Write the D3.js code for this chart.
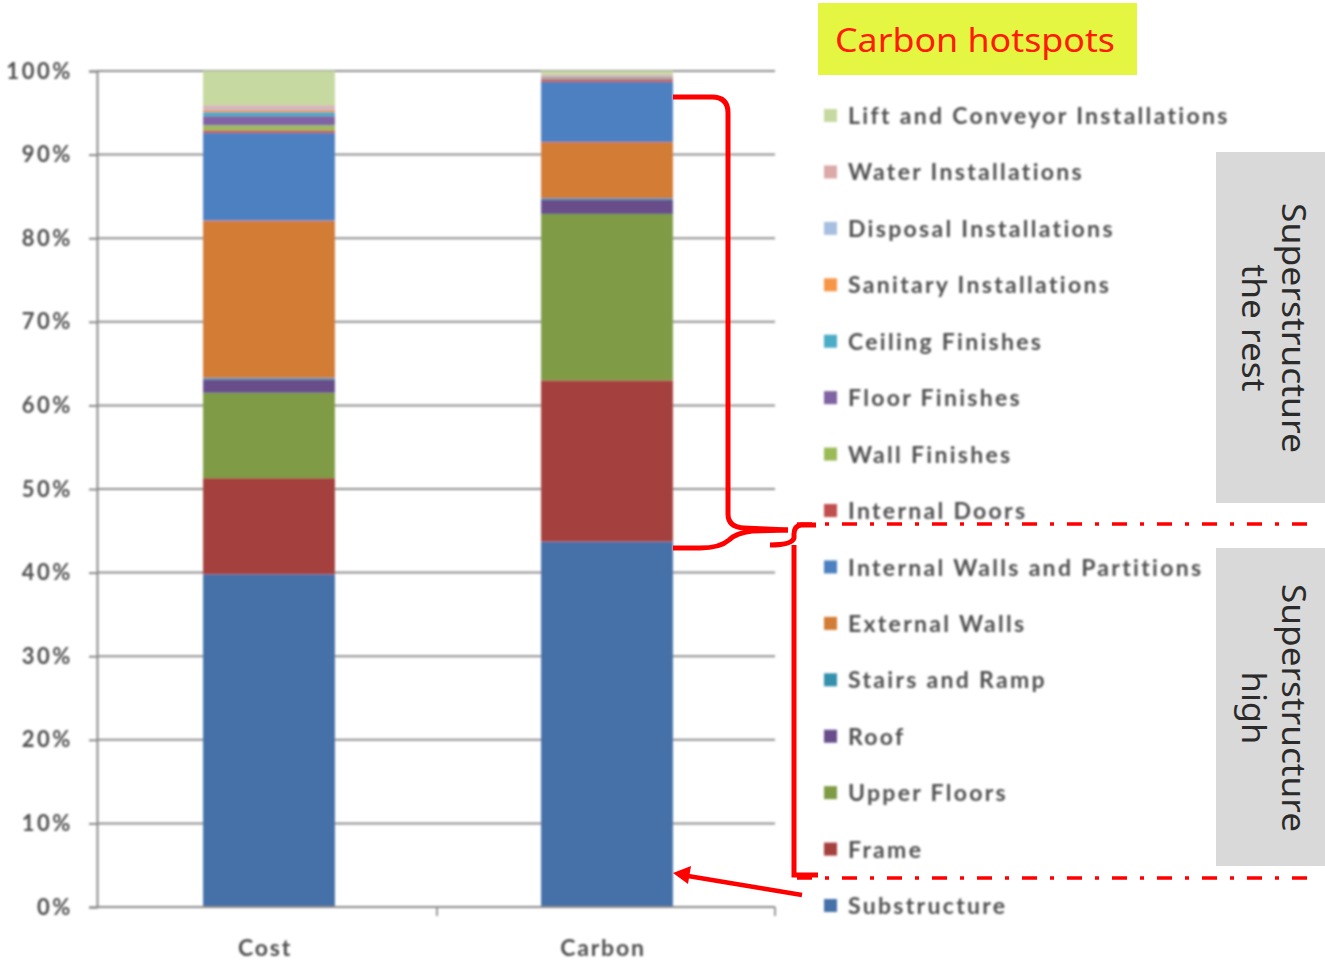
<!DOCTYPE html>
<html>
<head>
<meta charset="utf-8">
<script src="https://cdn.jsdelivr.net/npm/d3@7/dist/d3.min.js"></script>
<style>
  html, body { margin: 0; padding: 0; background: #ffffff; }
  svg { display: block; }
</style>
</head>
<body>
<script>
// Stacked 100% columns: share of cost and embodied carbon by building element
const categories = ["Cost", "Carbon"];

// Elements, listed from the bottom of the stack to the top
const elements = [
  "Substructure", "Frame", "Upper Floors", "Roof", "Stairs and Ramp",
  "External Walls", "Internal Walls and Partitions", "Internal Doors",
  "Wall Finishes", "Floor Finishes", "Ceiling Finishes",
  "Sanitary Installations", "Disposal Installations",
  "Water Installations", "Lift and Conveyor Installations"
];

// Percentage share of each element (same order as above)
const costShares   = [39.8, 11.5, 10.2, 1.6, 0.2, 18.8, 10.5, 0.3, 0.6, 1.1, 0.5, 0.3, 0.2, 0.3, 4.1];
const carbonShares = [43.7, 19.3, 19.9, 1.7, 0.2, 6.7, 7.2, 0.3, 0.1, 0.1, 0.1, 0.1, 0.1, 0.1, 0.4];

const yTicks = [0, 10, 20, 30, 40, 50, 60, 70, 80, 90, 100];

const elementColors = [
  "#4470a8", "#a43f3c", "#7f9b45", "#684d8a", "#3591ab",
  "#d27b34", "#4d80c0", "#c0504d", "#9bbb59", "#8064a2",
  "#4bacc6", "#f79646", "#a7bfe0", "#dba9a8", "#c6d9a0"
];

const W = 1325, H = 965;
const svg = d3.select("body").append("svg").attr("width", W).attr("height", H);

const defs = svg.append("defs");
defs.append("filter").attr("id", "soft")
  .attr("x", "-5%").attr("y", "-5%").attr("width", "110%").attr("height", "110%")
  .append("feGaussianBlur").attr("stdDeviation", 0.9);

const rows = categories.map((c, i) => {
  const r = { category: c };
  const src = i === 0 ? costShares : carbonShares;
  elements.forEach((e, k) => { r[e] = src[k]; });
  return r;
});

const stacked = d3.stack().keys(elements)(rows);

const axisLeftX = 97, axisRightX = 775;
const x = d3.scaleBand().domain(categories).range([100, 776]).padding(0);
const y = d3.scaleLinear().domain([0, 100]).range([907, 71]);
const color = d3.scaleOrdinal().domain(elements).range(elementColors);
const barW = x.step() * 0.39;

const chart = svg.append("g").attr("filter", "url(#soft)");

// Horizontal gridlines
chart.append("g").selectAll("line").data(yTicks).join("line")
  .attr("x1", axisLeftX).attr("x2", axisRightX)
  .attr("y1", d => y(d)).attr("y2", d => y(d))
  .attr("stroke", "#8f8f8f").attr("stroke-width", 2);

// Bars
chart.append("g").selectAll("g").data(stacked).join("g")
  .attr("fill", d => color(d.key))
  .selectAll("rect").data(d => d).join("rect")
  .attr("x", d => x(d.data.category) + x.bandwidth() / 2 - barW / 2)
  .attr("width", barW)
  .attr("y", d => y(d[1]))
  .attr("height", d => y(d[0]) - y(d[1]));

// Left axis
const yAxis = chart.append("g").attr("transform", `translate(${axisLeftX},0)`)
  .call(d3.axisLeft(y).tickValues(yTicks).tickFormat(d => d + "%").tickSize(8).tickPadding(16));
yAxis.select(".domain").attr("stroke", "#8a8a8a").attr("stroke-width", 2);
yAxis.selectAll(".tick line").attr("stroke", "#8a8a8a").attr("stroke-width", 2);
yAxis.selectAll("text")
  .attr("font-family", "Lato, 'Open Sans', sans-serif")
  .attr("font-size", 22).attr("font-weight", 700)
  .attr("letter-spacing", 2.6)
  .attr("fill", "#4f4f4f");

// Bottom axis with ticks between categories
const xAxis = chart.append("g").attr("transform", `translate(0,${y(0)})`);
xAxis.append("line").attr("x1", axisLeftX).attr("x2", axisRightX)
  .attr("stroke", "#8a8a8a").attr("stroke-width", 2);
xAxis.selectAll("line.tk").data([(axisLeftX + axisRightX) / 2 + 1, axisRightX]).join("line")
  .attr("class", "tk").attr("x1", d => d).attr("x2", d => d)
  .attr("y1", 0).attr("y2", 9).attr("stroke", "#9a9a9a").attr("stroke-width", 2);
xAxis.selectAll("text").data(categories).join("text")
  .attr("x", d => x(d) + x.bandwidth() / 2 - 4)
  .attr("y", 49)
  .attr("text-anchor", "middle")
  .attr("font-family", "Lato, 'Open Sans', sans-serif")
  .attr("font-size", 23).attr("font-weight", 700)
  .attr("letter-spacing", 1.8)
  .attr("fill", "#4f4f4f")
  .text(d => d);

// Legend (top entry = top of the stack)
const legendItems = elements.slice().reverse();
const legend = chart.append("g").attr("transform", "translate(824,116)");
const li = legend.selectAll("g").data(legendItems).join("g")
  .attr("transform", (d, i) => `translate(0,${i * 56.43})`);
li.append("rect").attr("x", 0).attr("y", -7).attr("width", 13).attr("height", 13)
  .attr("fill", d => color(d));
li.append("text").attr("x", 24).attr("y", 0).attr("dy", "0.35em")
  .attr("font-family", "Lato, 'Open Sans', sans-serif")
  .attr("font-size", 23).attr("font-weight", 700)
  .attr("letter-spacing", 2.3)
  .attr("fill", "#505050")
  .text(d => d);

// Annotation layer
const ann = svg.append("g");

// Title tag
ann.append("rect").attr("x", 818).attr("y", 3).attr("width", 319).attr("height", 72)
  .attr("fill", "#e4f542");
ann.append("text").attr("x", 975).attr("y", 52).attr("text-anchor", "middle")
  .attr("font-family", "'Noto Sans', 'Open Sans', sans-serif").attr("font-size", 32)
  .attr("textLength", 280).attr("lengthAdjust", "spacingAndGlyphs")
  .attr("fill", "#ff1a00").text("Carbon hotspots");

// Grey group labels
const groups = [
  { y0: 152, y1: 503, cy: 328, lines: [["Superstructure", 250], ["the rest", 127]] },
  { y0: 548, y1: 866, cy: 708, lines: [["Superstructure", 248], ["high", 73]] }
];
groups.forEach(g => {
  ann.append("rect").attr("x", 1216).attr("y", g.y0).attr("width", 109).attr("height", g.y1 - g.y0)
    .attr("fill", "#d9d9d9");
  const t = ann.append("text")
    .attr("transform", `translate(1274,${g.cy}) rotate(90)`)
    .attr("text-anchor", "middle")
    .attr("font-family", "'Noto Sans', 'Open Sans', sans-serif").attr("font-size", 33)
    .attr("fill", "#2b2b2b");
  t.append("tspan").attr("x", 0).attr("y", -8)
    .attr("textLength", g.lines[0][1]).attr("lengthAdjust", "spacingAndGlyphs").text(g.lines[0][0]);
  t.append("tspan").attr("x", 0).attr("y", 32)
    .attr("textLength", g.lines[1][1]).attr("lengthAdjust", "spacingAndGlyphs").text(g.lines[1][0]);
});

// Dash-dot separators
[524, 878].forEach(yy => {
  ann.append("line").attr("x1", 797).attr("x2", 1313).attr("y1", yy).attr("y2", yy)
    .attr("stroke", "#ff0000").attr("stroke-width", 3.5)
    .attr("stroke-dasharray", "15,13,4,13");
});

const red = "#ff0000";
// Right brace spanning the upper part of the carbon column
ann.append("path")
  .attr("d", "M673,97 L712,97 Q728,97 728,113 L728,514 Q728,527 744,528 L788,530")
  .attr("fill", "none").attr("stroke", red).attr("stroke-width", 5);
ann.append("path")
  .attr("d", "M788,530 L752,531 Q736,533 729,540 Q720,548 700,548 L673,548")
  .attr("fill", "none").attr("stroke", red).attr("stroke-width", 5);

// Left brace for the high-impact superstructure group
ann.append("path")
  .attr("d", "M816,525 L801,525 Q794,526 794,534 L794,538 Q792,545 770,545")
  .attr("fill", "none").attr("stroke", red).attr("stroke-width", 5);
ann.append("path")
  .attr("d", "M794,545 L794,875 L818,875")
  .attr("fill", "none").attr("stroke", red).attr("stroke-width", 5);

// Arrow pointing at the substructure segment
ann.append("line").attr("x1", 802).attr("y1", 895).attr("x2", 688).attr("y2", 876)
  .attr("stroke", red).attr("stroke-width", 4.5);
ann.append("path").attr("d", "M673,873 L691,866 L688,884 Z").attr("fill", red);
</script>
</body>
</html>
